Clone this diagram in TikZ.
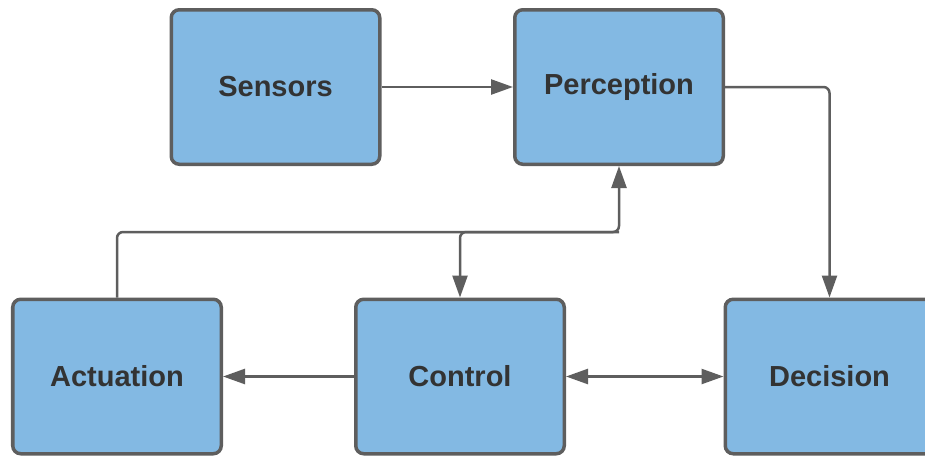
\documentclass[tikz,border=0pt]{standalone}
\usepackage{fontspec}
\setmainfont{Liberation Sans}
\usetikzlibrary{arrows.meta, positioning}
\definecolor{boxblue}{RGB}{131, 185, 227}
\definecolor{edgegray}{RGB}{94, 94, 94}
\definecolor{textdark}{RGB}{51, 51, 51}

\begin{document}
\begin{tikzpicture}[
    >={Triangle[length=0.44cm, width=0.3cm]},
    box/.style={rectangle, draw=edgegray, line width=0.07cm, fill=boxblue, rounded corners=0.16cm, minimum width=4.17cm, minimum height=3.09cm, align=center, text=textdark, font=\fontsize{16.5}{20}\selectfont\bfseries},
    arrow/.style={->, line width=0.05cm, draw=edgegray, rounded corners=0.12cm},
    twoway/.style={<->, line width=0.05cm, draw=edgegray}
]
\useasboundingbox (0,0) rectangle (18.5,-9.12);

% top row: Sensors -> Perception
\node[box] (sensors) at (5.51,-1.74) {Sensors};
\node[box, right=2.63cm of sensors] (perception) {Perception};

% bottom row: Actuation <- Control <-> Decision
\node[box] (control) at (9.2,-7.53) {Control};
\node[box, left=2.62cm of control] (actuation) {Actuation};
\node[box, right=3.15cm of control] (decision) {Decision};

% feedback level
\coordinate (fb) at (0,-4.64);

\draw[arrow] (sensors) -- (perception);
\draw[arrow] (perception.east) -| (decision.north);
\draw[arrow] (control) -- (actuation);
\draw[twoway] (control) -- (decision);

% feedback loop
\draw[arrow] (actuation.north) |- (fb -| perception.south) -- (perception.south);
\draw[arrow] (fb -| perception.south) -| (control.north);

\end{tikzpicture}
\end{document}
